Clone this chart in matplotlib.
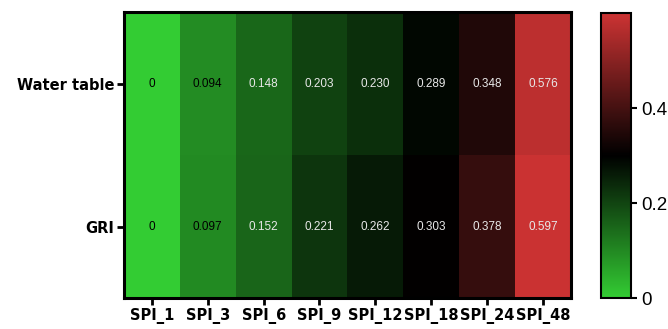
import numpy as np
import matplotlib.pyplot as plt
from matplotlib.colors import LinearSegmentedColormap

cols = ["SPI_1", "SPI_3", "SPI_6", "SPI_9", "SPI_12", "SPI_18", "SPI_24", "SPI_48"]
rows = ["Water table", "GRI"]
water_table = [0, 0.094, 0.148, 0.203, 0.230, 0.289, 0.348, 0.576]
gri = [0, 0.097, 0.152, 0.221, 0.262, 0.303, 0.378, 0.597]
labels_wt = ["0", "0.094", "0.148", "0.203", "0.230", "0.289", "0.348", "0.576"]
labels_gri = ["0", "0.097", "0.152", "0.221", "0.262", "0.303", "0.378", "0.597"]

plt.rcParams['font.family'] = ['Liberation Sans', 'DejaVu Sans']

cmap = LinearSegmentedColormap.from_list("gbr", ["#33cc33", "#000000", "#cc3333"])
vals = np.array([water_table, gri])
labs = [labels_wt, labels_gri]

fig = plt.figure(figsize=(6.68, 3.29), dpi=100)
ax = fig.add_axes([0.1856, 0.094, 0.669, 0.869])
cax = fig.add_axes([0.899, 0.094, 0.046, 0.866])

im = ax.imshow(vals, cmap=cmap, vmin=0, vmax=0.6, aspect='auto')
for i in range(vals.shape[0]):
    for j in range(vals.shape[1]):
        c = 'black' if vals[i, j] < 0.12 else '#e8e8e8'
        ax.text(j, i, labs[i][j], ha='center', va='center', fontsize=8.5, color=c)

ax.set_xticks(range(len(cols)))
ax.set_xticklabels(cols, fontsize=10.5, fontweight='bold', family='DejaVu Sans')
ax.set_yticks(range(len(rows)))
ax.set_yticklabels(rows, fontsize=10.5, fontweight='bold', family='DejaVu Sans')
ax.tick_params(length=5, width=2, pad=2)
for s in ax.spines.values():
    s.set_linewidth(2.2)

cb = fig.colorbar(im, cax=cax, ticks=[0, 0.2, 0.4])
cb.ax.set_yticklabels(["0", "0.2", "0.4"], fontsize=13.5)
cb.ax.tick_params(length=4, width=1.5, pad=3)
cb.outline.set_linewidth(1.5)

fig.savefig("out.png", dpi=100)
